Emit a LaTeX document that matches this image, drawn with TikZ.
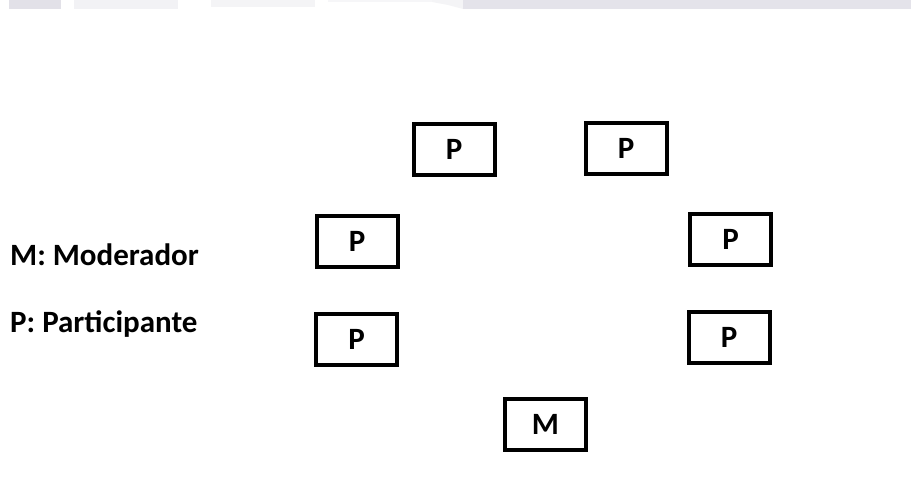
\documentclass[tikz,border=0pt]{standalone}
\usepackage{fontspec}
\setmainfont{Carlito}
\begin{document}
\begin{tikzpicture}[x=1pt,y=-1pt,
  seat/.style={draw=black, line width=4pt, minimum width=81pt, minimum height=51pt, inner sep=0pt, font=\fontsize{31}{31}\selectfont\bfseries},
  legend/.style={anchor=base west, inner sep=0pt, font=\fontsize{31}{31}\selectfont\bfseries},
  bar/.style={draw=none}]
\useasboundingbox (0,0) rectangle (911,477);
% faint bars at the top
\fill[bar, fill={rgb,255:red,226;green,225;blue,232}] (9,0) rectangle (61,9);
\fill[bar, fill={rgb,255:red,242;green,242;blue,245}] (74,0) rectangle (178,9);
\fill[bar, fill={rgb,255:red,244;green,244;blue,246}] (211,0) rectangle (315,7);
\fill[bar, fill={rgb,255:red,246;green,246;blue,248}] (328,0) rectangle (433,2);
\fill[bar, fill={rgb,255:red,244;green,244;blue,246}] (432,0) -- (911,0) -- (911,9) -- (463,9) -- (448,5) -- (432,2) -- cycle;
\fill[bar, fill={rgb,255:red,228;green,227;blue,234}] (463,0) -- (911,0) -- (911,9) -- (463,9) -- cycle;
% seats
\node[seat] (tl) at (454,149.5) {P};
\node[seat] (tr) at (626,148) {P};
\node[seat] (ml) at (357,241) {P};
\node[seat] (mr) at (730.5,239.5) {P};
\node[seat] (ll) at (356.5,339.5) {P};
\node[seat] (lr) at (729,337.5) {P};
\node[seat] (m) at (545.5,424.5) {M};
% legend
\node[legend] (lm) at (10,265) {M: Moderador};
\node[legend] (lp) at (10,332) {P: Participante};
\end{tikzpicture}
\end{document}
